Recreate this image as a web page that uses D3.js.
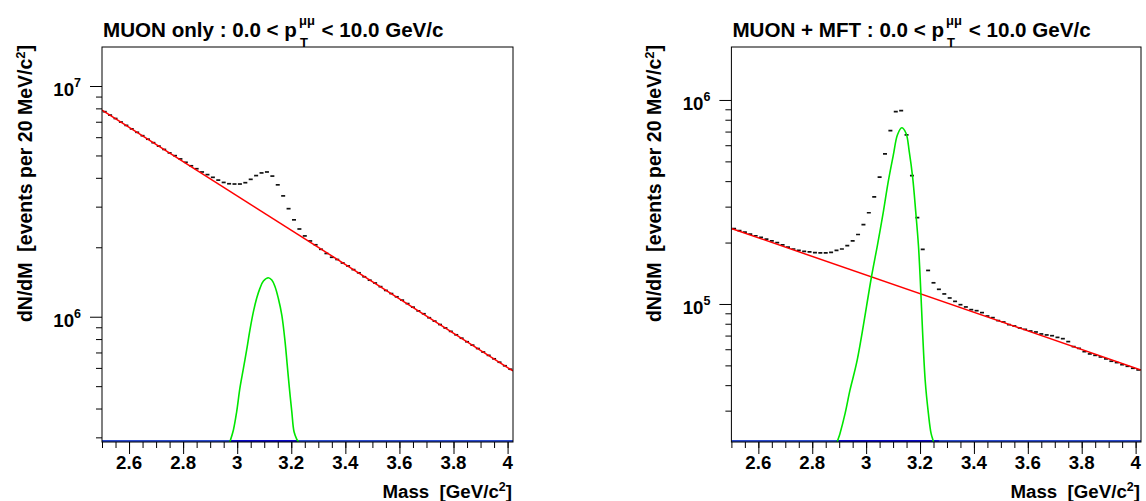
<!DOCTYPE html>
<html><head><meta charset="utf-8">
<script src="https://cdn.jsdelivr.net/npm/d3@7"></script>
<style>
body{margin:0;background:#fff}
text{font-family:"Liberation Sans",Arial,Helvetica,sans-serif;font-weight:bold;fill:#000}
</style>
</head><body>
<svg id="c" width="1146" height="501"></svg>
<script>
// ---------- data ----------
const binWidth = 0.02; // GeV/c^2
const massCenters = [2.51,2.53,2.55,2.57,2.59,2.61,2.63,2.65,2.67,2.69,2.71,2.73,2.75,2.77,2.79,2.81,2.83,2.85,2.87,2.89,
  2.91,2.93,2.95,2.97,2.99,3.01,3.03,3.05,3.07,3.09,3.11,3.13,3.15,3.17,3.19,3.21,3.23,3.25,3.27,3.29,
  3.31,3.33,3.35,3.37,3.39,3.41,3.43,3.45,3.47,3.49,3.51,3.53,3.55,3.57,3.59,3.61,3.63,3.65,3.67,3.69,
  3.71,3.73,3.75,3.77,3.79,3.81,3.83,3.85,3.87,3.89,3.91,3.93,3.95,3.97,3.99,4.01];

const muonOnlyCounts = [7.74e6,7.48e6,7.23e6,6.98e6,6.75e6,6.52e6,6.30e6,6.09e6,5.88e6,5.68e6,5.49e6,5.31e6,5.13e6,
  4.99e6,4.83e6,4.67e6,4.51e6,4.38e6,4.24e6,4.13e6,4.02e6,3.91e6,3.82e6,3.77e6,3.76e6,3.76e6,3.81e6,3.94e6,4.09e6,4.20e6,
  4.24e6,4.07e6,3.73e6,3.34e6,2.94e6,2.63e6,2.40e6,2.24e6,2.13e6,2.05e6,1.96e6,1.88e6,1.81e6,
  1.77e6,1.71e6,1.66e6,1.60e6,1.55e6,1.49e6,1.44e6,1.40e6,1.35e6,1.30e6,1.26e6,1.22e6,1.18e6,1.14e6,1.10e6,1.06e6,1.03e6,
  9.90e5,9.57e5,9.25e5,8.94e5,8.64e5,8.35e5,8.07e5,7.79e5,7.53e5,7.28e5,7.03e5,6.80e5,6.57e5,6.35e5,6.13e5,5.92e5];

const muonMftCounts = [2.34e5,2.29e5,2.25e5,2.20e5,2.16e5,2.12e5,2.08e5,2.04e5,2.00e5,1.95e5,
  1.90e5,1.86e5,1.83e5,1.81e5,1.80e5,1.785e5,1.78e5,1.78e5,1.79e5,1.83e5,1.86e5,1.93e5,2.04e5,2.19e5,2.45e5,2.80e5,
  3.35e5,4.19e5,5.44e5,7.07e5,8.77e5,8.87e5,6.74e5,4.26e5,2.65e5,1.85e5,1.46e5,
  1.27e5,1.18e5,1.12e5,1.07e5,1.03e5,9.92e4,9.67e4,9.38e4,9.27e4,9.07e4,8.73e4,8.57e4,8.29e4,8.16e4,7.92e4,7.80e4,
  7.63e4,7.51e4,7.37e4,7.29e4,7.13e4,7.05e4,6.99e4,6.86e4,6.76e4,6.54e4,6.18e4,6.06e4,5.84e4,5.69e4,5.60e4,5.50e4,
  5.38e4,5.24e4,5.16e4,5.04e4,4.95e4,4.84e4,4.75e4];

// background fits (exponential -> straight on log axis)
const muonOnlyBkgMass = [2.5, 4.02];
const muonOnlyBkgCounts = [7.87e6, 5.82e5];
const muonMftBkgMass = [2.5, 4.02];
const muonMftBkgCounts = [2.344e5, 4.75e4];

// J/psi signal curves
const muonOnlySigMass = [2.960,2.973,2.986,2.998,3.010,3.023,3.035,3.047,3.060,3.072,3.084,3.097,3.115,3.128,3.140,3.152,3.165,3.177,3.185,3.193,3.202,3.210,3.220,3.226,3.235];
const muonOnlySigCounts = [2.6e5,2.87e5,3.23e5,3.87e5,4.90e5,5.97e5,7.18e5,8.75e5,1.052e6,1.202e6,1.327e6,1.429e6,1.476e6,1.442e6,1.349e6,1.202e6,1.016e6,7.80e5,6.18e5,4.90e5,3.87e5,3.18e5,2.95e5,2.87e5,2.6e5];
const muonMftSigMass = [2.885,2.893,2.903,2.922,2.940,2.967,3.021,3.042,3.064,3.082,3.101,3.116,3.132,3.148,3.160,3.173,3.184,3.194,3.200,3.219,3.231,3.241,3.250,3.258];
const muonMftSigCounts = [1.9e4,2.11e4,2.32e4,2.91e4,3.78e4,5.32e4,1.387e5,1.945e5,2.835e5,3.98e5,5.38e5,6.74e5,7.31e5,6.87e5,5.58e5,4.13e5,2.835e5,1.946e5,1.388e5,4.24e4,2.91e4,2.32e4,2.11e4,1.9e4];

const xTickValues = [2.6,2.8,3,3.2,3.4,3.6,3.8,4];
const xMinorTickValues = [2.5,2.55,2.6,2.65,2.7,2.75,2.8,2.85,2.9,2.95,3,3.05,3.1,3.15,3.2,3.25,3.3,3.35,3.4,3.45,3.5,3.55,3.6,3.65,3.7,3.75,3.8,3.85,3.9,3.95,4];
const titleLeads = ["MUON only : 0.0 < p", "MUON + MFT : 0.0 < p"];
const titleTail = " < 10.0 GeV/c";
const yTitle = "dN/dM  [events per 20 MeV/c";
const xTitle = "Mass  [GeV/c";

// ---------- drawing ----------
const svg = d3.select("#c");
svg.append("rect").attr("width",1146).attr("height",501).attr("fill","#fff");

const panels = [
  {id:"L", left:102, right:513, ymin:2.864e5, ymax:1.476e7, majors:[1e6,1e7], exps:["6","7"],
   counts:muonOnlyCounts, bkgM:muonOnlyBkgMass, bkgC:muonOnlyBkgCounts, sigM:muonOnlySigMass, sigC:muonOnlySigCounts,
   title:titleLeads[0], sigBlue:[2.97,3.225]},
  {id:"R", left:731.4, right:1141, ymin:2.106e4, ymax:1.818e6, majors:[1e5,1e6], exps:["5","6"],
   counts:muonMftCounts, bkgM:muonMftBkgMass, bkgC:muonMftBkgCounts, sigM:muonMftSigMass, sigC:muonMftSigCounts,
   title:titleLeads[1], sigBlue:[2.89,3.27]}
];
const frameTop = 47, frameBottom = 442;

panels.forEach(p => {
  const x = d3.scaleLinear().domain([2.5, 4.02]).range([p.left, p.right]);
  const y = d3.scaleLog().domain([p.ymin, p.ymax]).range([frameBottom, frameTop]);
  const g = svg.append("g");

  const clipId = "clip" + p.id;
  svg.append("clipPath").attr("id", clipId).append("rect")
    .attr("x", p.left).attr("y", frameTop).attr("width", p.right - p.left).attr("height", frameBottom - frameTop);
  const plot = g.append("g").attr("clip-path", `url(#${clipId})`);

  // blue line at bottom of frame
  plot.append("line").attr("x1", p.left).attr("x2", p.right).attr("y1", frameBottom-1).attr("y2", frameBottom-1)
    .attr("stroke", "#2a4bd0").attr("stroke-width", 2.2);
  plot.append("line").attr("x1", x(p.sigBlue[0])).attr("x2", x(p.sigBlue[1])).attr("y1", frameBottom-1).attr("y2", frameBottom-1)
    .attr("stroke", "#0a0ac8").attr("stroke-width", 2.2);

  // histogram bins
  plot.selectAll("line.bin").data(massCenters.map((m,i)=>({m, v:p.counts[i]}))).enter()
    .append("line").attr("class","bin")
    .attr("x1", d => x(d.m - binWidth/2) + 0.7).attr("x2", d => x(d.m + binWidth/2) - 0.7)
    .attr("y1", d => y(d.v)).attr("y2", d => y(d.v))
    .attr("stroke", "#111").attr("stroke-width", 1.7);

  // background fit
  const line = d3.line().x(d => x(d[0])).y(d => y(d[1]));
  plot.append("path").datum(p.bkgM.map((m,i)=>[m, p.bkgC[i]]))
    .attr("d", line).attr("fill","none").attr("stroke","#ff0000").attr("stroke-width",1.5);

  // signal
  plot.append("path").datum(p.sigM.map((m,i)=>[m, p.sigC[i]]))
    .attr("d", line.curve(d3.curveCatmullRom.alpha(0.5))).attr("fill","none")
    .attr("stroke","#00e600").attr("stroke-width",1.6);

  // frame
  g.append("rect").attr("x", p.left).attr("y", frameTop).attr("width", p.right-p.left).attr("height", frameBottom-frameTop)
    .attr("fill","none").attr("stroke","#000").attr("stroke-width",1);

  // x axis
  const xMaj = g.append("g").attr("transform", `translate(0,${frameBottom})`)
    .call(d3.axisBottom(x).tickValues(xTickValues).tickSize(12).tickFormat(""));
  const xMin = g.append("g").attr("transform", `translate(0,${frameBottom})`)
    .call(d3.axisBottom(x).tickValues(xMinorTickValues).tickSize(6).tickFormat(""));
  [xMaj, xMin].forEach(a => { a.select(".domain").remove(); a.selectAll("line").attr("stroke","#000"); });
  g.selectAll("text.xl").data(xTickValues).enter().append("text").attr("class","xl")
    .attr("x", d => x(d)).attr("y", 469).attr("text-anchor","middle").attr("font-size", 18.7)
    .text(d => String(d));

  // y axis
  const [lo, hi] = y.domain();
  const minors = [];
  for (let e = Math.floor(Math.log10(lo)); e <= Math.ceil(Math.log10(hi)); e++)
    for (let k = 2; k <= 9; k++) { const v = k * Math.pow(10, e); if (v >= lo && v <= hi) minors.push(v); }
  const yMaj = g.append("g").attr("transform", `translate(${p.left},0)`)
    .call(d3.axisLeft(y).tickValues(p.majors).tickSize(12).tickFormat(""));
  const yMin = g.append("g").attr("transform", `translate(${p.left},0)`)
    .call(d3.axisLeft(y).tickValues(minors).tickSize(6).tickFormat(""));
  [yMaj, yMin].forEach(a => { a.select(".domain").remove(); a.selectAll("line").attr("stroke","#000"); });
  p.majors.forEach((v,i) => {
    const t = g.append("text").attr("x", p.left - 21).attr("y", y(v) + 10).attr("text-anchor","end").attr("font-size",18.7);
    t.append("tspan").text("10");
    t.append("tspan").attr("dy", -9).attr("font-size", 12.5).text(p.exps[i]);
  });

  // y title
  const yt = g.append("text").attr("transform", `translate(${p.left - 70},${frameTop - 2}) rotate(-90)`)
    .attr("text-anchor","end").attr("font-size",19.5);
  yt.append("tspan").attr("xml:space","preserve").text(yTitle);
  yt.append("tspan").attr("dy",-7).attr("font-size",13).text("2");
  yt.append("tspan").attr("dy",7).text("]");

  // x title
  const xt = g.append("text").attr("x", p.right - 1).attr("y", 498).attr("text-anchor","end").attr("font-size",18.7);
  xt.append("tspan").attr("xml:space","preserve").text(xTitle);
  xt.append("tspan").attr("dy",-7).attr("font-size",12.5).text("2");
  xt.append("tspan").attr("dy",7).text("]");

  // main title with p_T^{mumu}
  const tx = p.left + 1, ty = 37;
  const t1 = g.append("text").attr("x", tx).attr("y", ty).attr("font-size", 20.6).text(p.title);
  const w1 = t1.node().getComputedTextLength();
  const sup = g.append("text").attr("x", tx + w1 + 2).attr("y", ty - 12).attr("font-size", 13).attr("font-weight","normal").text("\u03bc\u03bc");
  g.append("text").attr("x", tx + w1 + 3).attr("y", ty + 10).attr("font-size", 13).text("T");
  const ws = sup.node().getComputedTextLength();
  g.append("text").attr("x", tx + w1 + 3 + ws).attr("y", ty).attr("font-size", 20.6)
    .attr("xml:space","preserve").text(titleTail);
});
</script>
</body></html>
